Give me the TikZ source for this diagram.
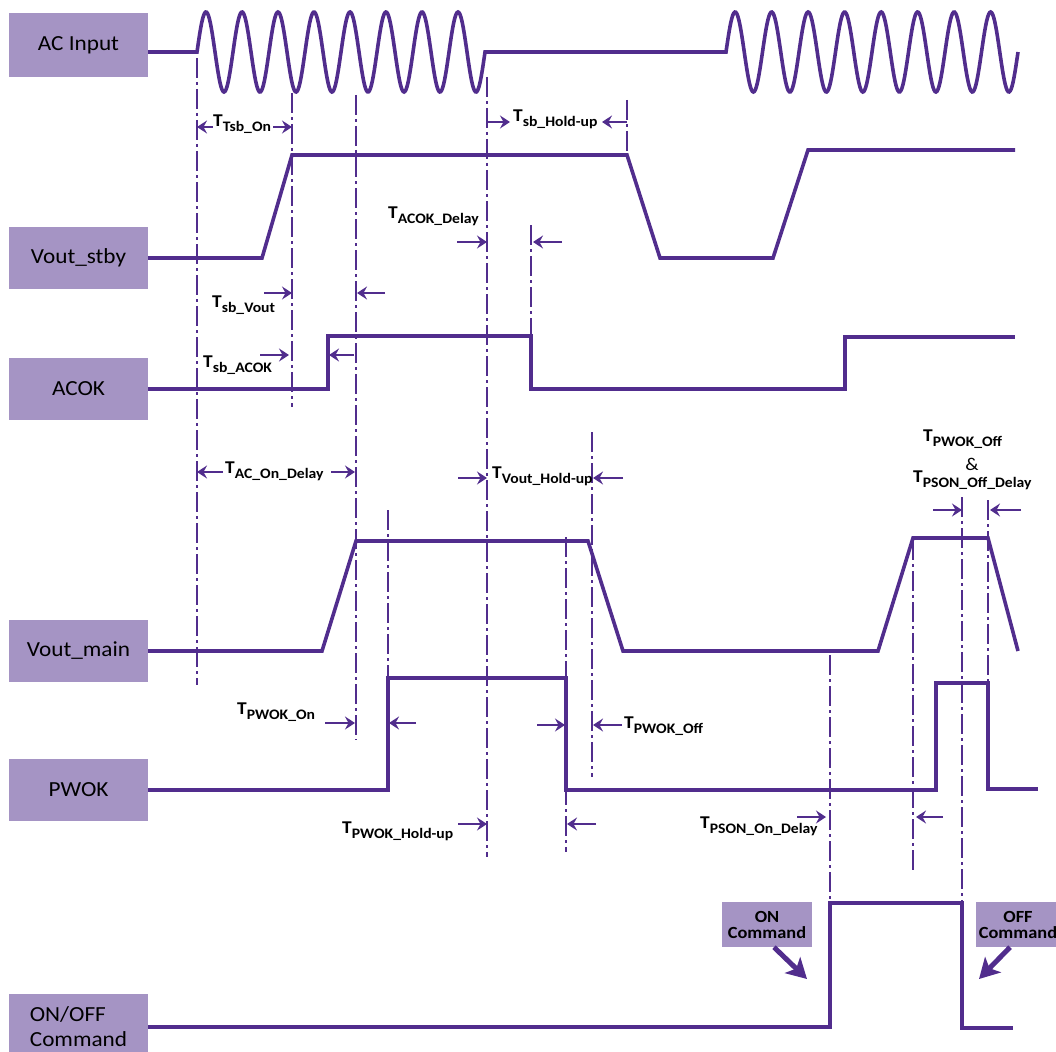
\documentclass[tikz,border=0pt]{standalone}
\usepackage{fontspec}
\setmainfont{Carlito}[FakeStretch=1.08]
\usetikzlibrary{arrows.meta}
\definecolor{sigpurple}{RGB}{81,45,141}
\definecolor{boxlilac}{RGB}{165,148,196}
\newcommand{\tname}[1]{T\raisebox{-5pt}{\fontsize{14.5}{15}\selectfont #1}}

\begin{document}
\begin{tikzpicture}[x=1pt, y=-1pt, >=Stealth,
    sig/.style={draw=sigpurple, line width=3.6pt},
    guide/.style={draw=sigpurple, line width=1.6pt,
        dash pattern=on 20pt off 4pt on 3pt off 4pt},
    tick/.style={draw=sigpurple, line width=2.3pt,
        -{Stealth[length=10pt,width=13pt,inset=3.5pt]}},
    cmdarrow/.style={draw=sigpurple, line width=5pt,
        -{Stealth[length=20pt,width=22pt,inset=5pt]}},
    namebox/.style={fill=boxlilac, minimum width=139pt, minimum height=62pt,
        inner sep=0pt, align=left, font=\fontsize{21.5}{25}\selectfont},
    cmdbox/.style={fill=boxlilac, minimum width=90pt, minimum height=45pt,
        inner sep=0pt, align=center, font=\bfseries\fontsize{17}{16}\selectfont},
    tlabel/.style={anchor=base west, inner sep=0pt,
        font=\bfseries\fontsize{18}{20}\selectfont}
]
\useasboundingbox (0,0) rectangle (1056,1051);

%%% signal names
\node[namebox, minimum height=64pt] (acin) at (78.5,45) {AC Input};
\node[namebox] (vstby) at (78.5,258) {Vout\_stby};
\node[namebox] (acok) at (78.5,389) {ACOK};
\node[namebox] (vmain) at (78.5,651) {Vout\_main};
\node[namebox] (pwok) at (78.5,790) {PWOK};
\node[namebox, minimum height=66pt] (onoff) at (78.5,1027) {ON/OFF\\Command};

%%% timing guides
\foreach \x/\ya/\yb in {197/58/685, 292/93/407, 356/95/740, 487/77/857,
    531/225/336, 627/100/155, 592/432/777, 388/510/678, 566/537/852,
    830/655/903, 913/540/873, 962/497/903, 988/500/683}
    \draw[guide] (\x,\ya) -- (\x,\yb);

%%% waveforms
\draw[sig] ([yshift=-7pt]acin.east) -- (197,52)
    -- plot[domain=197:485, samples=300] (\x, {52-40*sin((\x-197)*10)})
    -- (487,52) -- (726,52)
    -- plot[domain=726:1018, samples=300] (\x, {52-40*sin((\x-726)/36.5*360)});
\draw[sig] (vstby.east) -- (262,258) -- (292,155) -- (627,155) -- (660,258)
    -- (773,258) -- (808,150) -- (1015,150);
\draw[sig] (acok.east) -- (328,389) -- (328,336) -- (531,336) -- (531,389)
    -- (845,389) -- (845,337) -- (1015,337);
\draw[sig] (vmain.east) -- (322,651) -- (356,541) -- (588,541) -- (623,651)
    -- (878,651) -- (913,538) -- (988,538) -- (1018,651);
\draw[sig] (pwok.east) -- (388,790) -- (388,678) -- (566,678) -- (566,790)
    -- (936,790) -- (936,683) -- (988,683) -- (988,789) -- (1038,789);
\draw[sig] (onoff.east) -- (830,1027) -- (830,903) -- (962,903) -- (962,1028)
    -- (1013,1028);

%%% interval arrows
\foreach \xa/\xb/\y in {213/197/127, 273/292/127, 487/510/122, 627/602/122,
    457/487/242, 562/533/242, 264/292/293, 385/357/293, 260/289/355,
    354/329/355, 223/197/472, 331/355/472, 458/487/478, 623/593/478,
    933/962/510, 1021/990/510, 325/355/723, 416/389/723, 537/565/725,
    622/593/725, 458/487/824, 596/567/824, 797/826/817, 943/916/817}
    \draw[tick] (\xa,\y) -- (\xb,\y);

%%% interval names
\node[tlabel] (tsbon) at (213,127) {\tname{Tsb\_On}};
\node[tlabel] (tsbhold) at (513,122) {\tname{sb\_Hold-up}};
\node[tlabel] (tacokdly) at (388,218) {\tname{ACOK\_Delay}};
\node[tlabel] (tsbvout) at (212,307) {\tname{sb\_Vout}};
\node[tlabel] (tsbacok) at (203,367) {\tname{sb\_ACOK}};
\node[tlabel] (tacon) at (225,473) {\tname{AC\_On\_Delay}};
\node[tlabel] (tvouthold) at (492,478) {\tname{Vout\_Hold-up}};
\node[tlabel] (tpwokoffa) at (923,441) {\tname{PWOK\_Off}};
\node[inner sep=0pt, font=\fontsize{18}{20}\selectfont] (tand) at (972,464) {\&};
\node[tlabel] (tpsonoff) at (913,482) {\tname{PSON\_Off\_Delay}};
\node[tlabel] (tpwokon) at (237,714) {\tname{PWOK\_On}};
\node[tlabel] (tpwokoffb) at (624,728) {\tname{PWOK\_Off}};
\node[tlabel] (tpwokhold) at (342,833) {\tname{PWOK\_Hold-up}};
\node[tlabel] (tpsonon) at (700,828) {\tname{PSON\_On\_Delay}};

%%% commands
\node[cmdbox] (oncmd) at (767,924.5) {ON\\Command};
\node[cmdbox, minimum width=100pt] (offcmd) at (1026,924.5) {\hspace*{-16pt}OFF\\\hspace*{-16pt}Command};
\draw[cmdarrow] ([xshift=7pt]oncmd.south) -- (807,979);
\draw[cmdarrow] ([xshift=-16pt]offcmd.south) -- (979,979);

\end{tikzpicture}
\end{document}
